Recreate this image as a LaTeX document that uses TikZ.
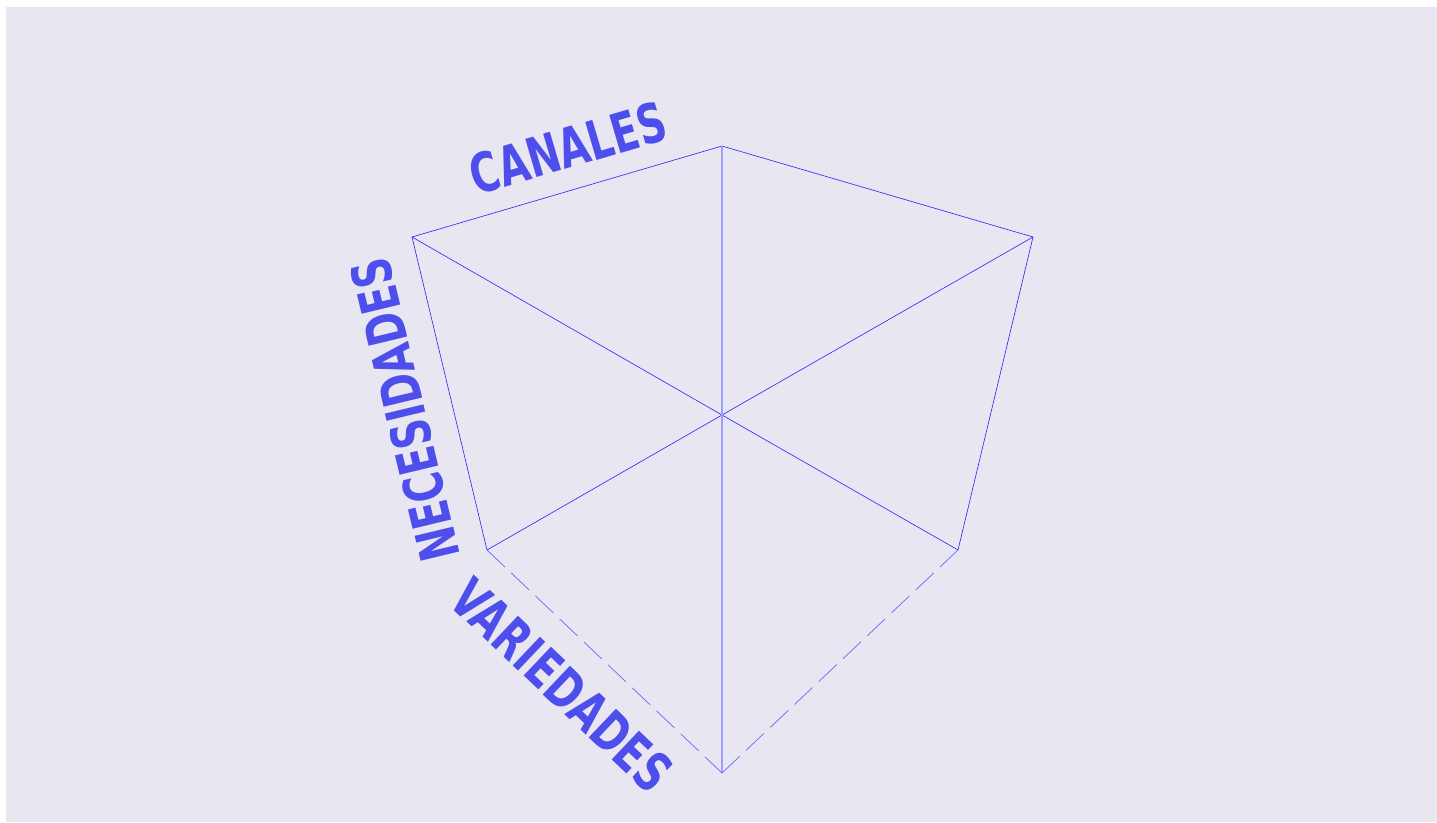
\documentclass[tikz,border=0pt]{standalone}
\usepackage{fontspec}
\setmainfont{DejaVu Sans Condensed}
\newfontfamily\lblfont{DejaVu Sans Condensed}[FakeStretch=0.8]
\usepackage{tikz}
\usetikzlibrary{positioning}
\definecolor{bgcube}{RGB}{232,230,240}
\definecolor{txtcube}{RGB}{78,78,236}
\definecolor{edgecube}{RGB}{40,40,250}
\begin{document}
\begin{tikzpicture}[x=0.02cm,y=-0.02cm,
edge/.style={draw=edgecube,line width=0.35pt},
back/.style={draw=edgecube!45,line width=0.6pt},
hidden/.style={draw=edgecube!70,line width=0.4pt,dash pattern=on 14pt off 5pt},
lbl/.style={text=txtcube,font=\lblfont\bfseries\fontsize{31}{31}\selectfont,inner sep=0pt}]
\useasboundingbox (0,0) rectangle (1437,822);
\fill[bgcube] (6,7) rectangle (1437,822);
% vertices
\coordinate (top) at (722,146);
\coordinate (lt) at (412,237);
\coordinate (rt) at (1033,237);
\coordinate (mid) at (722,415);
\coordinate (lb) at (487,550);
\coordinate (rb) at (958,550);
\coordinate (bot) at (722,773);
% edges
\draw[edge] (lb)--(lt)--(top)--(rt)--(rb);
\draw[edge] (lt)--(mid)--(rt);
\draw[edge] (lb)--(mid)--(rb);
\draw[back] (top)--(bot);
\draw[hidden] (lb)--(bot);
\draw[hidden] (rb)--(bot);
% labels
\node[lbl,rotate=16.4] (canales) at (568,148) {CANALES};
\node[lbl,rotate=103.5] (necesidades) at (405,410) {NECESIDADES};
\node[lbl,rotate=-43.5] (variedades) at (562,685) {VARIEDADES};
\end{tikzpicture}
\end{document}
